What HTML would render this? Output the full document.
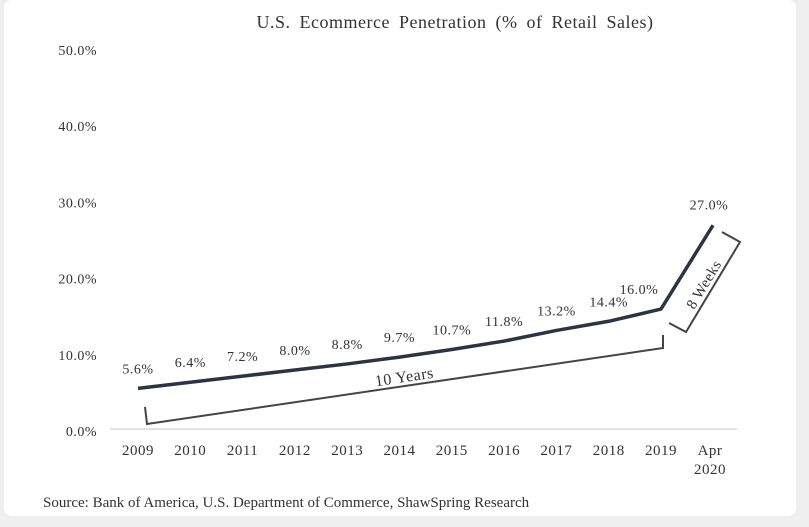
<!DOCTYPE html>
<html><head><meta charset="utf-8"><style>
body{margin:0;width:809px;height:527px;background:#efefef;overflow:hidden;font-family:"Liberation Serif",serif}
#card{position:absolute;left:4px;top:0;width:792px;height:516px;background:#fff;border-radius:8px}
svg{position:absolute;left:0;top:0}
text{font-family:"Liberation Serif",serif;fill:#333;letter-spacing:0.5px}
</style></head><body>
<div id="card"></div>
<svg id="chart" width="809" height="527">
<text x="455" y="28" text-anchor="middle" font-size="18" style="word-spacing:4px">U.S. Ecommerce Penetration (% of Retail Sales)</text>
<text x="43" y="507" font-size="15" fill="#2a3a55" style="letter-spacing:0">Source: Bank of America, U.S. Department of Commerce, ShawSpring Research</text>
</svg>
<script>
const categories=["2009","2010","2011","2012","2013","2014","2015","2016","2017","2018","2019","Apr 2020"];
const values=[5.6,6.4,7.2,8.0,8.8,9.7,10.7,11.8,13.2,14.4,16.0,27.0];
const yTicks=[0,10,20,30,40,50];
const svg=document.getElementById('chart');const NS='http://www.w3.org/2000/svg';
const x=i=>i<11?138+i*52.3:713;
const y=v=>431-v*7.62;
function mk(t,a,p){const e=document.createElementNS(NS,t);for(const k in a)e.setAttribute(k,a[k]);(p||svg).appendChild(e);return e;}
yTicks.forEach(v=>{const t=mk('text',{x:97,y:y(v)+5,'text-anchor':'end','font-size':14});t.textContent=v.toFixed(1)+'%';

});
const ax=mk('line',{x1:110,x2:737,y1:429,y2:429,stroke:'#d9d9d9','stroke-width':1.5});


categories.forEach((c,i)=>{
 const parts=c.split(' ');
 parts.forEach((p,j)=>{const t=mk('text',{x:x(i)+(i==11?-3:0),y:455+j*19,'text-anchor':'middle','font-size':15});t.textContent=p;
 
 });
});
const line=mk('polyline',{points:values.map((v,i)=>x(i)+','+y(v)).join(' '),fill:'none',stroke:'#2b3445','stroke-width':3.5,'stroke-linejoin':'round'});


values.forEach((v,i)=>{const dx=i==11?-4:(i==10?-22:0);const t=mk('text',{x:x(i)+dx,y:y(v)-(i==11?16:15),'text-anchor':'middle','font-size':14});t.textContent=v.toFixed(1)+'%';

});
const b1=mk('polyline',{points:'145,407 147,424 663,348 663,335',fill:'none',stroke:'#444','stroke-width':2});


const t1=mk('text',{x:405,y:382,'text-anchor':'middle','font-size':16,transform:'rotate(-8.4 405 382)'});t1.textContent='10 Years';


const b2=mk('polyline',{points:'669,323 686,332 740,242 722,232',fill:'none',stroke:'#444','stroke-width':2});


const t2=mk('text',{x:708,y:287,'text-anchor':'middle','font-size':15,transform:'rotate(-59 708 287)'});t2.textContent='8 Weeks';


</script>
</body></html>
